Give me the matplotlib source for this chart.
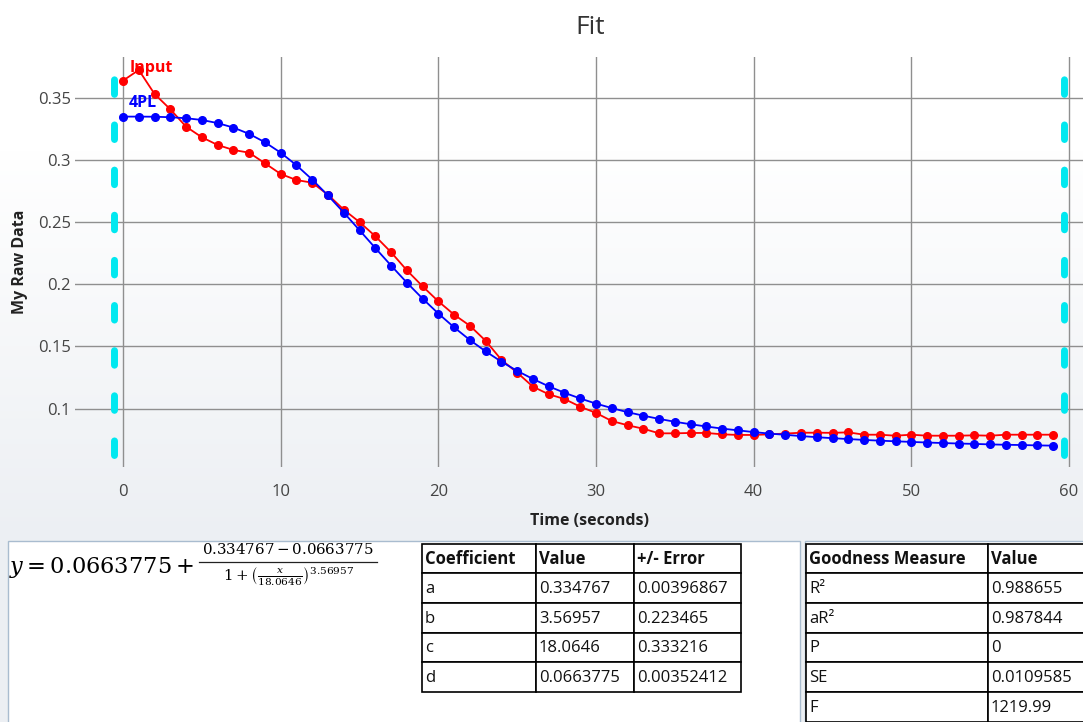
import numpy as np
import matplotlib
matplotlib.use("Agg")
import matplotlib.pyplot as plt
from matplotlib.patches import Rectangle

plt.rcParams['font.family'] = ['Open Sans', 'DejaVu Sans']
plt.rcParams['mathtext.fontset'] = 'dejavuserif'

# ---------------- data ----------------
time_s = list(range(60))
input_vals = [0.3637, 0.3723, 0.3530, 0.3407, 0.3267, 0.3182, 0.3120, 0.3080, 0.3058, 0.2973,
              0.2887, 0.2838, 0.2817, 0.2720, 0.2600, 0.2500, 0.2387, 0.2258, 0.2113, 0.1984,
              0.1863, 0.1756, 0.1667, 0.1546, 0.1393, 0.1290, 0.1177, 0.1116, 0.1078, 0.1016,
              0.0966, 0.0901, 0.0867, 0.0839, 0.0802, 0.0802, 0.0805, 0.0805, 0.0794, 0.0789,
              0.0789, 0.0794, 0.0800, 0.0807, 0.0807, 0.0806, 0.0810, 0.0791, 0.0791, 0.0783,
              0.0791, 0.0783, 0.0783, 0.0783, 0.0786, 0.0783, 0.0791, 0.0791, 0.0791, 0.0791]
fit_vals = [0.3348, 0.3348, 0.3347, 0.3343, 0.3335, 0.3321, 0.3296, 0.3260, 0.3209, 0.3142,
            0.3058, 0.2957, 0.2842, 0.2714, 0.2577, 0.2435, 0.2292, 0.2151, 0.2014, 0.1885,
            0.1765, 0.1654, 0.1552, 0.1461, 0.1378, 0.1304, 0.1239, 0.1180, 0.1128, 0.1082,
            0.1041, 0.1005, 0.0972, 0.0944, 0.0918, 0.0895, 0.0875, 0.0857, 0.0840, 0.0826,
            0.0812, 0.0800, 0.0790, 0.0780, 0.0771, 0.0763, 0.0756, 0.0749, 0.0743, 0.0738,
            0.0733, 0.0728, 0.0724, 0.0720, 0.0717, 0.0713, 0.0710, 0.0708, 0.0705, 0.0703]
range_bounds = [-0.57, 59.70]
x_ticks = [0, 10, 20, 30, 40, 50, 60]
y_ticks = [0.1, 0.15, 0.2, 0.25, 0.3, 0.35]
y_tick_labels = ['0.1', '0.15', '0.2', '0.25', '0.3', '0.35']

coef_header = ['Coefficient', 'Value', '+/- Error']
coef_names = ['a', 'b', 'c', 'd']
coef_values = ['0.334767', '3.56957', '18.0646', '0.0663775']
coef_errors = ['0.00396867', '0.223465', '0.333216', '0.00352412']

good_header = ['Goodness Measure', 'Value']
good_names = ['R²', 'aR²', 'P', 'SE', 'F']
good_values = ['0.988655', '0.987844', '0', '0.0109585', '1219.99']

W, H = 1083, 722
fig = plt.figure(figsize=(W / 100, H / 100), dpi=100)

# ---------------- background / panel axes (pixel coords) ----------------
bg = fig.add_axes([0, 0, 1, 1], zorder=0)
bg.set_xlim(0, W)
bg.set_ylim(H, 0)
bg.axis('off')
grad = np.ones((H, 1, 3))
top_c = np.array([1.0, 1.0, 1.0])
bot_c = np.array([236, 239, 243]) / 255.0
for py in range(H):
    t = np.clip((py - 150) / (541 - 150), 0, 1)
    grad[py, 0, :] = top_c * (1 - t) + bot_c * t
bg.imshow(grad, extent=[0, W, H, 0], aspect='auto', zorder=0)

# boxes
bg.add_patch(Rectangle((8, 541), 792, 190, facecolor='white', edgecolor='#a9bccf', lw=1.0, zorder=1))
bg.add_patch(Rectangle((805, 541), 290, 190, facecolor='white', edgecolor='#a9bccf', lw=1.0, zorder=1))

# equation
bg.text(9, 567, r'$y = 0.0663775 +$', fontsize=16.2, ha='left', va='center', zorder=3)
bg.text(288, 551, r'$0.334767 - 0.0663775$', fontsize=10.8, ha='center', va='center', zorder=3)
bg.plot([199, 377], [562, 562], color='#222222', lw=0.9, zorder=3)
bg.text(289, 577, r'$1+\left(\frac{x}{18.0646}\right)^{3.56957}$', fontsize=10.8, ha='center', va='center', zorder=3)


def draw_table(x_edges, top, row_h, header, columns):
    nrows = len(columns[0]) + 1
    for r in range(nrows):
        for c in range(len(x_edges) - 1):
            y0 = top + r * row_h
            bg.add_patch(Rectangle((x_edges[c], y0), x_edges[c + 1] - x_edges[c], row_h,
                                   facecolor='white', edgecolor='black', lw=1.2, zorder=2))
            if r == 0:
                txt, wt = header[c], 'bold'
            else:
                txt, wt = columns[c][r - 1], 'normal'
            bg.text(x_edges[c] + 3, y0 + row_h / 2 + 1, txt, fontsize=12, fontweight=wt,
                    ha='left', va='center', color='#111111', zorder=3)


draw_table([422, 536, 634, 741], 543.5, 29.7, coef_header, [coef_names, coef_values, coef_errors])
draw_table([806, 988, 1095], 543.5, 29.7, good_header, [good_names, good_values])

# ---------------- main chart ----------------
ax_l, ax_r, ax_t, ax_b = 75, 1083, 57, 467
ax = fig.add_axes([ax_l / W, 1 - ax_b / H, (ax_r - ax_l) / W, (ax_b - ax_t) / H], zorder=5)
ax.patch.set_alpha(0)
ax.set_xlim((ax_l - 123) / 15.767, (ax_r - 123) / 15.767)
ax.set_ylim(0.35 - (ax_b - 97.7) / 1244, 0.35 - (ax_t - 97.7) / 1244)
for s in ax.spines.values():
    s.set_visible(False)
ax.set_xticks(x_ticks)
ax.set_yticks(y_ticks)
ax.set_yticklabels(y_tick_labels)
ax.tick_params(axis='both', length=0, labelsize=12, labelcolor='#444444')
ax.tick_params(axis='x', pad=12)
ax.tick_params(axis='y', pad=3)
ax.grid(True, color='#8f8f8f', lw=1.0)
ax.set_axisbelow(True)

for xb in range(len(range_bounds)):
    ax.plot([range_bounds[xb], range_bounds[xb]], [0.0628, 0.3827], color='#00e8f0', lw=5,
            dashes=(2.1, 4.4), dash_capstyle='round', solid_capstyle='round', zorder=2)

ax.plot(time_s, input_vals, color='#ff0000', lw=1.3, marker='o', markersize=5.5, zorder=3)
ax.plot(time_s, fit_vals, color='#0000ff', lw=1.3, marker='o', markersize=5.5, zorder=4)
ax.text(0.42, 0.3739, 'Input', color='#ff0000', fontsize=11.5, fontweight='bold', ha='left', va='center', zorder=6)
ax.text(0.38, 0.3457, '4PL', color='#0000ff', fontsize=11.5, fontweight='bold', ha='left', va='center', zorder=6)

fig.text(590 / W, 1 - 27 / H, 'Fit', fontsize=19, color='#333333', ha='center', va='center')
fig.text(590 / W, 1 - 521 / H, 'Time (seconds)', fontsize=11.5, fontweight='bold', color='#222222', ha='center', va='center')
fig.text(20 / W, 1 - 262 / H, 'My Raw Data', fontsize=11.5, fontweight='bold', color='#222222', ha='center', va='center', rotation=90)

fig.savefig('out.png', dpi=100)
